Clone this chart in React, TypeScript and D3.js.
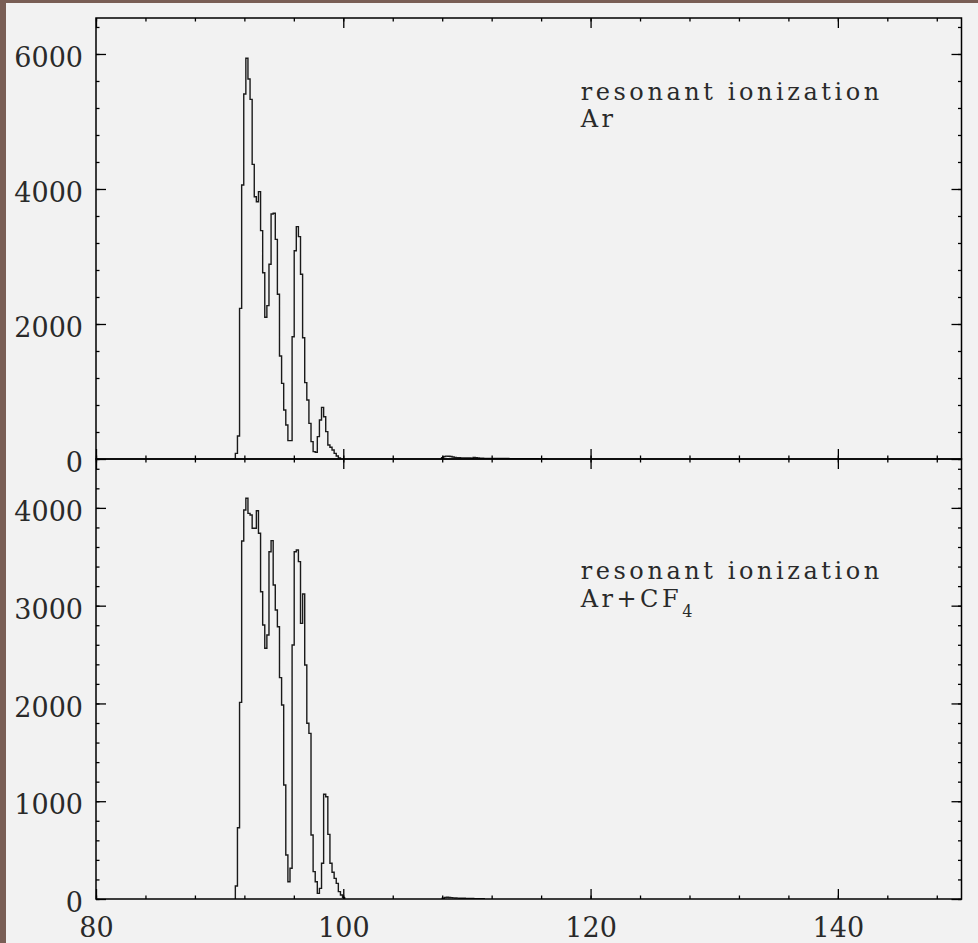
import React, { useEffect, useRef } from 'react';
import * as d3 from 'd3';

// histogram bins (same binning for both spectra)
const binStart = 91.27;
const binWidth = 0.17;

const arCounts = [
  84, 341, 2232, 4059, 5407, 5936, 5630, 5328, 4365, 3886, 3812, 3961, 3383, 2760, 2099, 2272,
  2884, 3630, 3640, 3254, 2440, 1526, 1121, 726, 504, 272, 272, 1812, 3086, 3442, 3294, 2736,
  1797, 1131, 874, 528, 257, 109, 100, 331, 578, 765, 627, 405, 207, 173, 133, 84, 44, 15,
];
const arTailStart = 107.95;
const arTail = [
  18, 38, 42, 40, 36, 30, 24, 20, 18, 16, 16, 15, 14, 14, 12, 22, 18, 14, 12, 12, 10, 10, 10, 10, 9,
  9, 8, 8, 8, 8, 7, 7, 6, 6, 6, 6, 5, 5, 5, 5, 4, 4, 4, 3, 3, 3, 2, 2, 2, 2,
];

const cf4Counts = [
  133, 729, 2011, 3661, 3978, 4098, 3944, 3927, 3791, 3791, 3971, 3740, 3143, 2802, 2564, 2700,
  3552, 3665, 3211, 2956, 2785, 2264, 1984, 1166, 450, 177, 314, 2598, 3552, 3569, 3450, 2819,
  3119, 2393, 1797, 1694, 655, 280, 177, 58, 109, 365, 1071, 1046, 661, 365, 273, 211, 160, 75, 41, 14,
];
const cf4TailStart = 108.0;
const cf4Tail = [8, 15, 18, 16, 14, 12, 10, 9, 8, 8, 7, 6, 6, 5, 5, 4, 4, 3, 3, 2];

const xMajor = [80, 100, 120, 140];
const xLabels = ['80', '100', '120', '140'];
const topMajor = [0, 2000, 4000, 6000];
const botMajor = [0, 1000, 2000, 3000, 4000];

const W = 978;
const H = 943;
const FONT = "'DejaVu Serif', serif";

function stepPoints(start: number, width: number, counts: number[]) {
  const pts: [number, number][] = [[start, 0]];
  counts.forEach((c, i) => pts.push([start + i * width, c]));
  pts.push([start + counts.length * width, 0]);
  return pts;
}

export default function App() {
  const ref = useRef<SVGSVGElement>(null);

  useEffect(() => {
    const svg = d3.select(ref.current);
    svg.selectAll('*').remove();

    const left = 96;
    const right = 961.5;
    const top = 18;
    const mid = 459;
    const bottom = 899;

    svg.append('rect').attr('width', W).attr('height', H).attr('fill', '#795e55');
    svg.append('rect').attr('x', 6).attr('y', 3).attr('width', W - 6).attr('height', H - 3).attr('fill', '#f2f2f2');

    const x = d3.scaleLinear().domain([80, 150]).range([left, right]);
    const xMinor = d3.range(80, 150.01, 4);

    const panels = [
      {
        id: 'p1', y0: top, y1: mid,
        y: d3.scaleLinear().domain([0, 6533]).range([mid, top]),
        major: topMajor, minor: d3.range(0, 6533, 400),
        series: [[binStart, arCounts], [arTailStart, arTail]] as [number, number[]][],
        lines: ['resonant ionization', 'Ar'],
        textY: [100, 126.7],
        sub: false,
      },
      {
        id: 'p2', y0: mid, y1: bottom,
        y: d3.scaleLinear().domain([0, 4500]).range([bottom, mid]),
        major: botMajor, minor: d3.range(0, 4501, 200),
        series: [[binStart, cf4Counts], [cf4TailStart, cf4Tail]] as [number, number[]][],
        lines: ['resonant ionization', 'Ar+CF'],
        textY: [579.3, 606.7],
        sub: true,
      },
    ];

    const styleTicks = (g: any) => {
      g.select('.domain').remove();
      g.selectAll('.tick line').attr('stroke', '#000').attr('stroke-width', 1.3);
      g.selectAll('.tick text').remove();
    };

    panels.forEach((p) => {
      svg.append('clipPath').attr('id', `clip-${p.id}`)
        .append('rect').attr('x', left).attr('y', p.y0).attr('width', right - left).attr('height', p.y1 - p.y0);

      const line = d3.line<[number, number]>()
        .x((d) => x(d[0]))
        .y((d) => p.y(d[1]))
        .curve(d3.curveStepAfter);

      p.series.forEach(([start, counts]) => {
        svg.append('path')
          .attr('clip-path', `url(#clip-${p.id})`)
          .attr('d', line(stepPoints(start, binWidth, counts)))
          .attr('fill', 'none')
          .attr('stroke', '#1a1a1a')
          .attr('stroke-width', 1.4);
      });

      // inward ticks on all four sides
      [[xMajor, 10], [xMinor, 3.5]].forEach(([vals, size]: any) => {
        svg.append('g').attr('transform', `translate(0,${p.y0})`)
          .call(d3.axisBottom(x).tickValues(vals).tickSize(size)).call(styleTicks);
        svg.append('g').attr('transform', `translate(0,${p.y1})`)
          .call(d3.axisTop(x).tickValues(vals).tickSize(size)).call(styleTicks);
      });
      [[p.major, 10], [p.minor, 3.5]].forEach(([vals, size]: any) => {
        svg.append('g').attr('transform', `translate(${left},0)`)
          .call(d3.axisRight(p.y).tickValues(vals).tickSize(size)).call(styleTicks);
        svg.append('g').attr('transform', `translate(${right},0)`)
          .call(d3.axisLeft(p.y).tickValues(vals).tickSize(size)).call(styleTicks);
      });

      svg.append('rect')
        .attr('x', left).attr('y', p.y0).attr('width', right - left).attr('height', p.y1 - p.y0)
        .attr('fill', 'none').attr('stroke', '#000').attr('stroke-width', 1.5);

      // y tick labels
      const yl = svg.append('g').attr('transform', `translate(${left},0)`)
        .call(d3.axisLeft(p.y).tickValues(p.major).tickSize(0).tickPadding(13).tickFormat(d3.format('d')));
      yl.select('.domain').remove();
      yl.selectAll('text')
        .attr('font-family', FONT).attr('font-size', 27).attr('fill', '#2a2a2a').attr('dy', '0.47em');

      // annotation
      svg.append('text').attr('x', 580.7).attr('y', p.textY[0])
        .attr('font-family', FONT).attr('font-size', 24).attr('fill', '#2a2a2a')
        .attr('letter-spacing', 3.5)
        .attr('textLength', 302).attr('lengthAdjust', 'spacing')
        .text(p.lines[0]);
      const t2 = svg.append('text').attr('x', 580.7).attr('y', p.textY[1])
        .attr('font-family', FONT).attr('font-size', 24).attr('fill', '#2a2a2a')
        .attr('letter-spacing', 3.5);
      t2.append('tspan').text(p.lines[1]);
      if (p.sub) {
        t2.append('tspan').attr('font-size', 16).attr('dy', 10).text('4');
      }
    });

    // x tick labels
    const xl = svg.append('g').attr('transform', `translate(0,${bottom})`)
      .call(d3.axisBottom(x).tickValues(xMajor).tickSize(0).tickFormat((_, i) => xLabels[i]));
    xl.select('.domain').remove();
    xl.selectAll('text')
      .attr('font-family', FONT).attr('font-size', 27).attr('fill', '#2a2a2a')
      .attr('y', 38).attr('dy', 0);
  }, []);

  return (
    <svg
      ref={ref}
      width={W}
      height={H}
      style={{ position: 'absolute', left: 0, top: 0, display: 'block' }}
    />
  );
}
